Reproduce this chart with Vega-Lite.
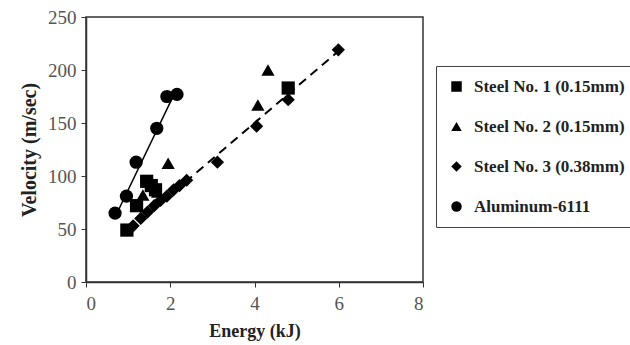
{
  "$schema": "https://vega.github.io/schema/vega-lite/v6.json",
  "width": 337,
  "height": 265,
  "autosize": "none",
  "padding": {"left": 86, "top": 17, "right": 207, "bottom": 63},
  "background": "white",
  "config": {
    "view": {"stroke": "#333", "strokeWidth": 1.5},
    "font": "Liberation Serif"
  },
  "datasets": {
    "points": [
      {"energy": 0.97, "velocity": 49, "material": "Steel No. 1 (0.15mm)"},
      {"energy": 1.2, "velocity": 72, "material": "Steel No. 1 (0.15mm)"},
      {"energy": 1.44, "velocity": 95, "material": "Steel No. 1 (0.15mm)"},
      {"energy": 1.55, "velocity": 91, "material": "Steel No. 1 (0.15mm)"},
      {"energy": 1.65, "velocity": 87, "material": "Steel No. 1 (0.15mm)"},
      {"energy": 4.8, "velocity": 183, "material": "Steel No. 1 (0.15mm)"},
      {"energy": 1.35, "velocity": 82, "material": "Steel No. 2 (0.15mm)"},
      {"energy": 1.7, "velocity": 85, "material": "Steel No. 2 (0.15mm)"},
      {"energy": 1.95, "velocity": 112, "material": "Steel No. 2 (0.15mm)"},
      {"energy": 4.08, "velocity": 167, "material": "Steel No. 2 (0.15mm)"},
      {"energy": 4.32, "velocity": 200, "material": "Steel No. 2 (0.15mm)"},
      {"energy": 1.12, "velocity": 53, "material": "Steel No. 3 (0.38mm)"},
      {"energy": 1.3, "velocity": 60, "material": "Steel No. 3 (0.38mm)"},
      {"energy": 1.46, "velocity": 66, "material": "Steel No. 3 (0.38mm)"},
      {"energy": 1.62, "velocity": 72, "material": "Steel No. 3 (0.38mm)"},
      {"energy": 1.77, "velocity": 77, "material": "Steel No. 3 (0.38mm)"},
      {"energy": 1.92, "velocity": 81, "material": "Steel No. 3 (0.38mm)"},
      {"energy": 2.08, "velocity": 87, "material": "Steel No. 3 (0.38mm)"},
      {"energy": 2.22, "velocity": 91, "material": "Steel No. 3 (0.38mm)"},
      {"energy": 2.39, "velocity": 96, "material": "Steel No. 3 (0.38mm)"},
      {"energy": 3.12, "velocity": 113, "material": "Steel No. 3 (0.38mm)"},
      {"energy": 4.05, "velocity": 147, "material": "Steel No. 3 (0.38mm)"},
      {"energy": 4.8, "velocity": 172, "material": "Steel No. 3 (0.38mm)"},
      {"energy": 5.99, "velocity": 219, "material": "Steel No. 3 (0.38mm)"},
      {"energy": 0.69, "velocity": 65, "material": "Aluminum-6111"},
      {"energy": 0.96, "velocity": 81, "material": "Aluminum-6111"},
      {"energy": 1.19, "velocity": 113, "material": "Aluminum-6111"},
      {"energy": 1.68, "velocity": 145, "material": "Aluminum-6111"},
      {"energy": 1.92, "velocity": 175, "material": "Aluminum-6111"},
      {"energy": 2.16, "velocity": 177, "material": "Aluminum-6111"}
    ],
    "alufit": [
      {"energy": 0.7, "velocity": 62},
      {"energy": 2.15, "velocity": 182}
    ],
    "steelfit": [
      {"energy": 1.0, "velocity": 48},
      {"energy": 6.0, "velocity": 218}
    ]
  },
  "layer": [
    {
      "data": {"name": "alufit"},
      "mark": {"type": "line", "color": "black", "strokeWidth": 1.5},
      "encoding": {
        "x": {"field": "energy", "type": "quantitative"},
        "y": {"field": "velocity", "type": "quantitative"}
      }
    },
    {
      "data": {"name": "steelfit"},
      "mark": {"type": "line", "color": "black", "strokeWidth": 2, "strokeDash": [9, 6]},
      "encoding": {
        "x": {"field": "energy", "type": "quantitative"},
        "y": {"field": "velocity", "type": "quantitative"}
      }
    },
    {
      "data": {"name": "points"},
      "mark": {"type": "point", "filled": true, "opacity": 1, "color": "black", "size": 175},
      "encoding": {
        "x": {
          "field": "energy",
          "type": "quantitative",
          "scale": {"domain": [0, 8], "nice": false},
          "axis": {
            "title": "Energy (kJ)",
            "values": [0, 2, 4, 6, 8],
            "grid": false,
            "domainColor": "#333",
            "domainWidth": 1.5,
            "tickColor": "#333",
            "tickSize": 5,
            "labelFont": "Liberation Serif",
            "labelFontSize": 19,
            "labelColor": "#555",
            "labelPadding": 7,
            "titleFont": "Liberation Serif",
            "titleFontSize": 18,
            "titleFontWeight": "bold",
            "titleColor": "#222",
            "titlePadding": 9
          }
        },
        "y": {
          "field": "velocity",
          "type": "quantitative",
          "scale": {"domain": [0, 250], "nice": false},
          "axis": {
            "title": "Velocity (m/sec)",
            "values": [0, 50, 100, 150, 200, 250],
            "grid": false,
            "domainColor": "#333",
            "domainWidth": 1.5,
            "tickColor": "#333",
            "tickSize": 5,
            "labelFont": "Liberation Serif",
            "labelFontSize": 19,
            "labelColor": "#555",
            "labelPadding": 5,
            "titleFont": "Liberation Serif",
            "titleFontSize": 20,
            "titleFontWeight": "bold",
            "titleColor": "#222",
            "titlePadding": 8
          }
        },
        "shape": {
          "field": "material",
          "type": "nominal",
          "sort": ["Steel No. 1 (0.15mm)", "Steel No. 2 (0.15mm)", "Steel No. 3 (0.38mm)", "Aluminum-6111"],
          "scale": {
            "domain": ["Steel No. 1 (0.15mm)", "Steel No. 2 (0.15mm)", "Steel No. 3 (0.38mm)", "Aluminum-6111"],
            "range": ["square", "triangle-up", "diamond", "circle"]
          },
          "legend": {
            "title": null,
            "orient": "none",
            "legendX": 350,
            "legendY": 49,
            "padding": 12,
            "strokeColor": "#444",
            "rowPadding": 22,
            "symbolSize": 110,
            "symbolFillColor": "black",
            "symbolStrokeColor": "black",
            "labelFont": "Liberation Serif",
            "labelFontSize": 17,
            "labelFontWeight": "bold",
            "labelColor": "#222",
            "labelOffset": 9,
            "labelLimit": 300
          }
        }
      }
    }
  ]
}
